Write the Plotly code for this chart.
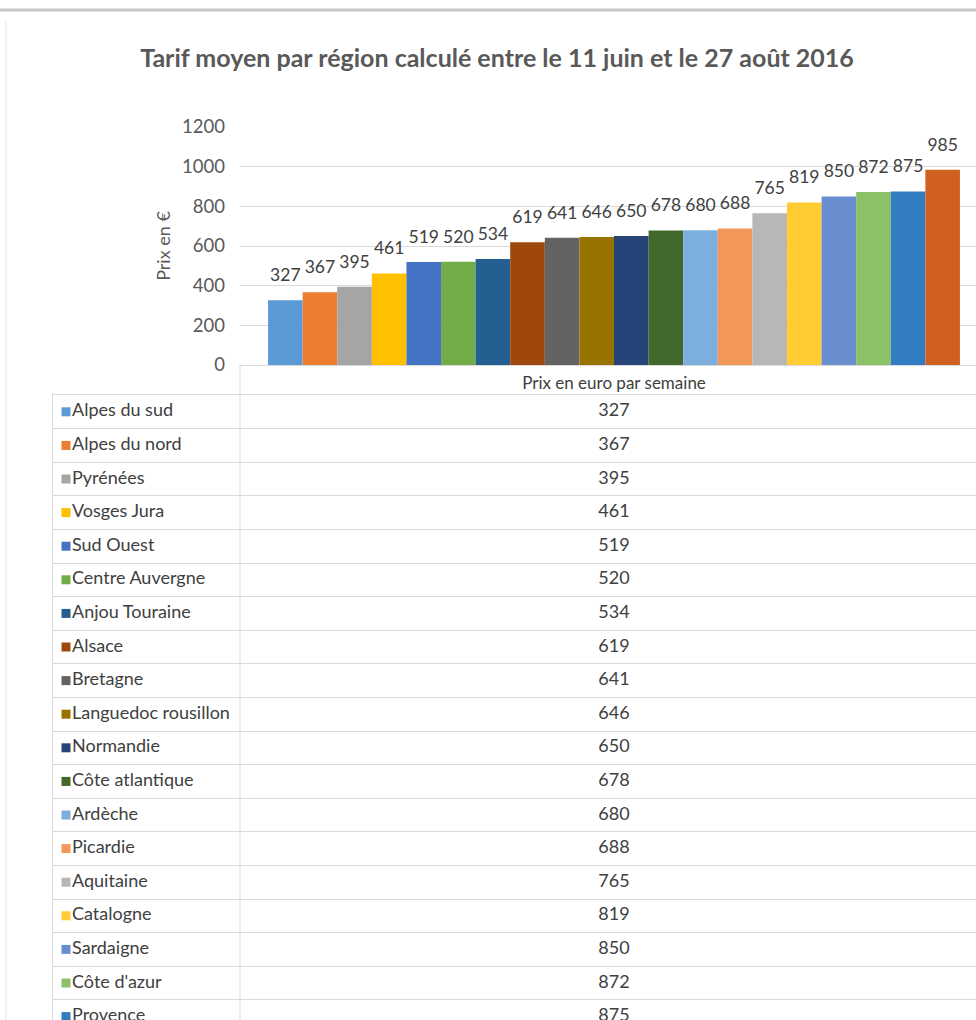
import plotly.graph_objects as go

W, H = 976, 1020

title = "Tarif moyen par région calculé entre le 11 juin et le 27 août 2016"
category = "Prix en euro par semaine"
y_title = "Prix en €"

regions = ["Alpes du sud", "Alpes du nord", "Pyrénées", "Vosges Jura", "Sud Ouest",
           "Centre Auvergne", "Anjou Touraine", "Alsace", "Bretagne", "Languedoc rousillon",
           "Normandie", "Côte atlantique", "Ardèche", "Picardie", "Aquitaine",
           "Catalogne", "Sardaigne", "Côte d'azur", "Provence", "Corse"]
prices = [327, 367, 395, 461, 519, 520, 534, 619, 641, 646,
          650, 678, 680, 688, 765, 819, 850, 872, 875, 985]
colors = ["#5B9BD5", "#ED7D31", "#A5A5A5", "#FFC000", "#4472C4",
          "#70AD47", "#255E91", "#9E480E", "#636363", "#997300",
          "#264478", "#43682B", "#7CAFDD", "#F1975A", "#B7B7B7",
          "#FFCD33", "#698ED0", "#8CC168", "#327DC2", "#D0601F"]
y_ticks = [0, 200, 400, 600, 800, 1000, 1200]

FONT = "Lato"


def py(p):
    return (H - p) / H


def px(p):
    return p / W


fig = go.Figure()

for i, (name, v, c) in enumerate(zip(regions, prices, colors)):
    fig.add_trace(go.Bar(
        x=[category], y=[v], name=name, marker=dict(color=c, line=dict(width=0)),
        offsetgroup=str(i), xaxis="x", yaxis="y", showlegend=False,
    ))
    # data label above each bar, grouped like the bars
    fig.add_trace(go.Scatter(
        x=[category], y=[v], mode="markers+text", text=[str(v)],
        textposition="top center", offsetgroup=str(i),
        marker=dict(size=22, color="rgba(0,0,0,0)"), cliponaxis=False,
        textfont=dict(family=FONT, size=17.5, color="#404040"),
        xaxis="x", yaxis="y", showlegend=False, hoverinfo="skip",
    ))

# Data table below the chart
fig.add_trace(go.Scatter(
    x=[66] * len(regions), y=regions, mode="markers",
    marker=dict(symbol="square", size=9, color=colors, line=dict(width=0)),
    xaxis="x2", yaxis="y2", showlegend=False, hoverinfo="skip", offsetgroup="t",
))
fig.add_trace(go.Scatter(
    x=[72] * len(regions), y=regions, mode="text", text=regions,
    textposition="middle right",
    textfont=dict(family=FONT, size=18, color="#404040"),
    xaxis="x2", yaxis="y2", showlegend=False, hoverinfo="skip", offsetgroup="t",
))
fig.add_trace(go.Scatter(
    x=[614] * len(regions), y=regions, mode="text", text=[str(v) for v in prices],
    textposition="middle center",
    textfont=dict(family=FONT, size=18, color="#404040"),
    xaxis="x2", yaxis="y2", showlegend=False, hoverinfo="skip", offsetgroup="t",
))

grid = "#D9D9D9"
row_h = 33.6

fig.update_layout(
    width=W, height=H,
    margin=dict(l=0, r=0, t=0, b=0, pad=0, autoexpand=False),
    paper_bgcolor="white", plot_bgcolor="rgba(0,0,0,0)",
    barmode="group", bargap=0.075, bargroupgap=0,
    scattermode="group", scattergap=0.075,
    font=dict(family=FONT, color="#595959"),
    title=dict(text="<b>" + title + "</b>", x=px(497), y=py(58),
               xanchor="center", yanchor="middle",
               font=dict(family=FONT, size=25, color="#595959")),
    xaxis=dict(domain=[px(240), 1], range=[-0.5, (W - 614) / 748],
               showline=True, linecolor=grid, linewidth=1, ticks="",
               showgrid=False, tickfont=dict(size=17, color="#404040"),
               ticklabelstandoff=3, anchor="y", fixedrange=True, automargin=False),
    yaxis=dict(domain=[py(365), py(127)], range=[0, 1200], tickvals=y_ticks,
               showgrid=True, gridcolor=grid, gridwidth=1, zeroline=False,
               showline=False, ticks="", ticklabelstandoff=14,
               tickfont=dict(size=18.5, color="#595959"),
               title=dict(text=y_title, font=dict(size=18, color="#595959"), standoff=6),
               anchor="x", automargin=False),
    xaxis2=dict(domain=[px(53), 1], range=[53, W], showgrid=False, zeroline=False,
                showticklabels=False, ticks="", showline=True, linecolor=grid,
                side="top", anchor="y2", automargin=False),
    yaxis2=dict(domain=[0, py(395)], type="category", categoryorder="array",
                categoryarray=regions, range=[-0.5 + (H - 395) / row_h, -0.5],
                tickson="boundaries", showgrid=True, gridcolor=grid, gridwidth=1,
                showticklabels=False, ticks="", zeroline=False,
                showline=True, linecolor=grid, anchor="x2", automargin=False),
    shapes=[
        dict(type="line", xref="paper", yref="paper", x0=0, x1=1, y0=py(10), y1=py(10),
             line=dict(color="#C8C8C8", width=3)),
        dict(type="line", xref="paper", yref="paper", x0=px(6), x1=px(6), y0=py(21), y1=0,
             line=dict(color="#E3E3E3", width=1)),
        dict(type="line", xref="paper", yref="paper", x0=px(240), x1=px(240), y0=py(365), y1=0,
             line=dict(color=grid, width=1)),
    ],
)

fig.write_html(
    "out.html",
    config={"displayModeBar": False},
    post_script="document.body.style.margin='0';document.body.style.overflow='hidden';"
                "document.documentElement.style.overflow='hidden';",
)
